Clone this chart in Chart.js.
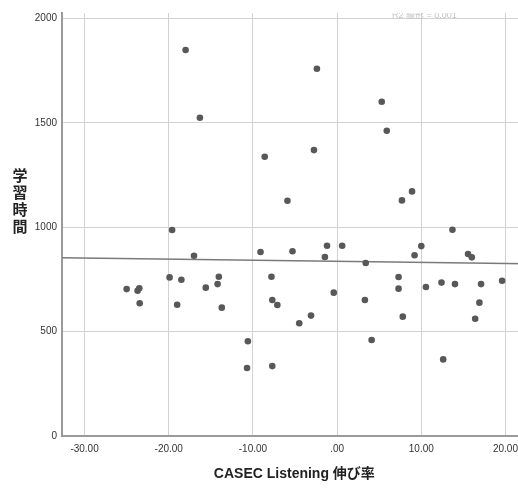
<!DOCTYPE html>
<html><head><meta charset="utf-8">
<script src="https://cdn.jsdelivr.net/npm/chart.js@4.4.1/dist/chart.umd.min.js"></script>
<style>
html,body{margin:0;padding:0;background:#fff;overflow:hidden;width:518px;height:490px;}
#wrap{position:relative;width:530px;height:490px;}
canvas{display:block;}
</style></head><body>
<div id="wrap"><canvas id="c" width="530" height="490"></canvas></div>
<script>
// CASEC Listening growth rate (x) vs study time (y)
const growthRate = [-18.0, -16.3, -8.6, -5.9, -19.6, -2.4, 5.3, 5.9, -2.75, 8.9, 7.7, 13.7,
  -17.0, -9.1, -7.8, -19.9, -18.5, -14.05, -14.2, -15.6, -25.0, -23.7, -23.5, -23.45,
  -19.0, -13.7, -7.7, -7.1, -10.6, -10.7, -7.7,
  -5.3, -1.2, -1.45, 0.6, 3.4, 10.0, 9.2, 15.55, 16.0,
  -4.5, -3.1, -0.4, 3.3, 4.1, 7.3, 7.3, 7.8, 10.55, 12.4, 14.0, 12.6, 17.1, 16.9, 16.4, 19.6];
const studyTime = [1850, 1525, 1338, 1127, 987, 1760, 1602, 1463, 1370, 1172, 1129, 988,
  864, 882, 763, 760, 749, 763, 728, 711, 704, 696, 708, 636,
  629, 615, 652, 628, 454, 326, 335,
  885, 912, 858, 912, 829, 910, 866, 872, 856,
  540, 577, 687, 652, 460, 762, 706, 572, 714, 735, 728, 367, 728, 639, 562, 744];
const fitLineX = [-32.68, 22.52];
const fitLineY = [854, 825];
const xTickValues = [-30, -20, -10, 0, 10, 20];
const xTickLabels = ['-30.00', '-20.00', '-10.00', '.00', '10.00', '20.00'];
const yTickValues = [0, 500, 1000, 1500, 2000];
const yTickLabels = ['0', '500', '1000', '1500', '2000'];
const xTitle = 'CASEC Listening 伸び率';
const yTitle = '学習時間';
const fitLabel = 'R2 線形 = 0.001';

const FONT = "'Liberation Sans', Arial, 'Noto Sans CJK JP', sans-serif";

const extraText = {
  id: 'extraText',
  afterDraw(chart) {
    const ctx = chart.ctx;
    const a = chart.chartArea;
    ctx.save();
    ctx.fillStyle = '#222';
    ctx.font = "bold 15px 'Noto Sans CJK JP', sans-serif";
    ctx.textAlign = 'center';
    ctx.textBaseline = 'middle';
    const chars = Array.from(yTitle);
    chars.forEach((ch, i) => ctx.fillText(ch, 20, 175 + 17 * i));
    ctx.restore();
    ctx.save();
    ctx.beginPath();
    ctx.rect(a.left, a.top, a.right - a.left, a.bottom - a.top);
    ctx.clip();
    ctx.fillStyle = '#c4c4c4';
    ctx.font = "9px " + FONT;
    ctx.textAlign = 'left';
    ctx.textBaseline = 'alphabetic';
    ctx.fillText(fitLabel, 392, 17.5);
    ctx.restore();
  }
};

new Chart(document.getElementById('c'), {
  data: {
    datasets: [
      {
        type: 'scatter',
        data: growthRate.map((x, i) => ({ x: x, y: studyTime[i] })),
        backgroundColor: '#585858',
        borderWidth: 0,
        pointRadius: 3.3,
        pointHoverRadius: 3.3,
        order: 1
      },
      {
        type: 'line',
        data: fitLineX.map((x, i) => ({ x: x, y: fitLineY[i] })),
        borderColor: '#7a7a7a',
        borderWidth: 1.5,
        pointRadius: 0,
        fill: false,
        order: 2
      }
    ]
  },
  options: {
    responsive: false,
    devicePixelRatio: 1,
    animation: false,
    layout: { padding: { top: 13, left: 0, right: 0, bottom: 0 } },
    plugins: { legend: { display: false }, tooltip: { enabled: false } },
    scales: {
      x: {
        type: 'linear',
        min: -32.68,
        max: 22.52,
        afterBuildTicks: s => { s.ticks = xTickValues.map(v => ({ value: v })); },
        afterFit: s => { s.height = 54; },
        ticks: {
          callback: (v, i) => xTickLabels[i],
          font: { size: 10, family: FONT },
          color: '#333',
          padding: 7,
          maxRotation: 0,
          autoSkip: false
        },
        grid: { color: '#d2d2d2', lineWidth: 1, drawTicks: false },
        border: { color: '#9a9a9a', width: 2 },
        title: {
          display: true,
          text: xTitle,
          font: { size: 14, weight: 'bold', family: FONT },
          color: '#222',
          padding: { top: 0, bottom: 7 }
        }
      },
      y: {
        type: 'linear',
        min: 0,
        max: 2027,
        afterBuildTicks: s => { s.ticks = yTickValues.map(v => ({ value: v })); },
        afterFit: s => { s.width = 62; },
        ticks: {
          callback: (v, i) => yTickLabels[i],
          font: { size: 10, family: FONT },
          color: '#333',
          padding: 5,
          autoSkip: false
        },
        grid: { color: '#d2d2d2', lineWidth: 1, drawTicks: false },
        border: { color: '#9a9a9a', width: 2 },
        title: { display: false }
      }
    }
  },
  plugins: [extraText]
});
</script>
</body></html>
